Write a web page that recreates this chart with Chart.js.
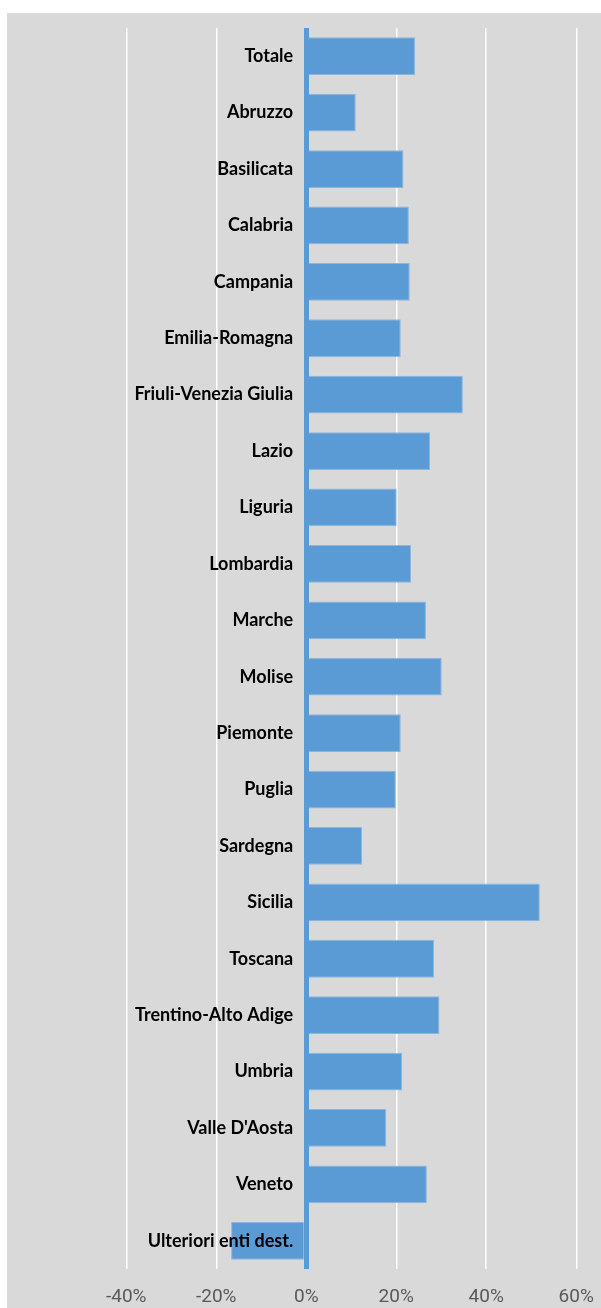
<!DOCTYPE html>
<html>
<head>
<meta charset="utf-8">
<script src="https://cdn.jsdelivr.net/npm/chart.js@4/dist/chart.umd.min.js"></script>
<style>
  html, body { margin: 0; padding: 0; background: #ffffff; }
  #wrap { position: absolute; left: 7px; top: 13px; width: 594px; height: 1295px; background: #d9d9d9; }
  #regionChart { display: block; }
</style>
</head>
<body>
<div id="wrap"><canvas id="regionChart" width="594" height="1295"></canvas></div>
<script>
// categories (top to bottom)
const regions = ['Totale', 'Abruzzo', 'Basilicata', 'Calabria', 'Campania', 'Emilia-Romagna',
  'Friuli-Venezia Giulia', 'Lazio', 'Liguria', 'Lombardia', 'Marche', 'Molise', 'Piemonte',
  'Puglia', 'Sardegna', 'Sicilia', 'Toscana', 'Trentino-Alto Adige', 'Umbria', 'Valle D\'Aosta',
  'Veneto', 'Ulteriori enti dest.'];

// percentage values
const values = [24.2, 11.0, 21.6, 22.8, 23.0, 21.0, 34.8, 27.5, 20.1, 23.3, 26.6, 30.1, 21.0,
  19.9, 12.4, 51.9, 28.4, 29.6, 21.3, 17.8, 26.8, -16.7];

// x axis tick labels
const xTicks = [-40, -20, 0, 20, 40, 60];

const barBlue = '#5b9bd5';

const ctx = document.getElementById('regionChart').getContext('2d');
new Chart(ctx, {
  type: 'bar',
  data: {
    labels: regions,
    datasets: [{
      data: values,
      backgroundColor: barBlue,
      borderColor: '#8db5e0',
      borderWidth: 1,
      barPercentage: 0.67,
      categoryPercentage: 1
    }]
  },
  options: {
    indexAxis: 'y',
    responsive: false,
    animation: false,
    layout: { padding: { top: 15, bottom: 1, left: 0, right: 0 } },
    plugins: {
      legend: { display: false },
      tooltip: { enabled: false }
    },
    scales: {
      x: {
        min: -66.5,
        max: 65.5,
        afterBuildTicks: (scale) => {
          scale.ticks = xTicks.map(v => ({ value: v }));
        },
        grid: {
          // the zero line is the blue axis, the others are white
          color: (c) => (c.tick && c.tick.value === 0 ? barBlue : '#ffffff'),
          lineWidth: (c) => (c.tick && c.tick.value === 0 ? 5 : 1.5),
          drawTicks: true,
          tickLength: 19,
          tickColor: 'rgba(0,0,0,0)'
        },
        border: { display: false },
        ticks: {
          padding: 0,
          color: '#595959',
          font: { family: 'Roboto, "Liberation Sans", sans-serif', size: 19, lineHeight: 1 },
          callback: (v) => v + '%'
        }
      },
      y: {
        position: { x: -2.9 },
        grid: { display: false, drawTicks: false },
        border: { display: false },
        ticks: {
          z: 1, // labels over the bars
          padding: 0,
          color: '#000000',
          font: { family: 'Lato, "Liberation Sans", sans-serif', size: 18, weight: 'bold' }
        }
      }
    }
  }
});
</script>
</body>
</html>
